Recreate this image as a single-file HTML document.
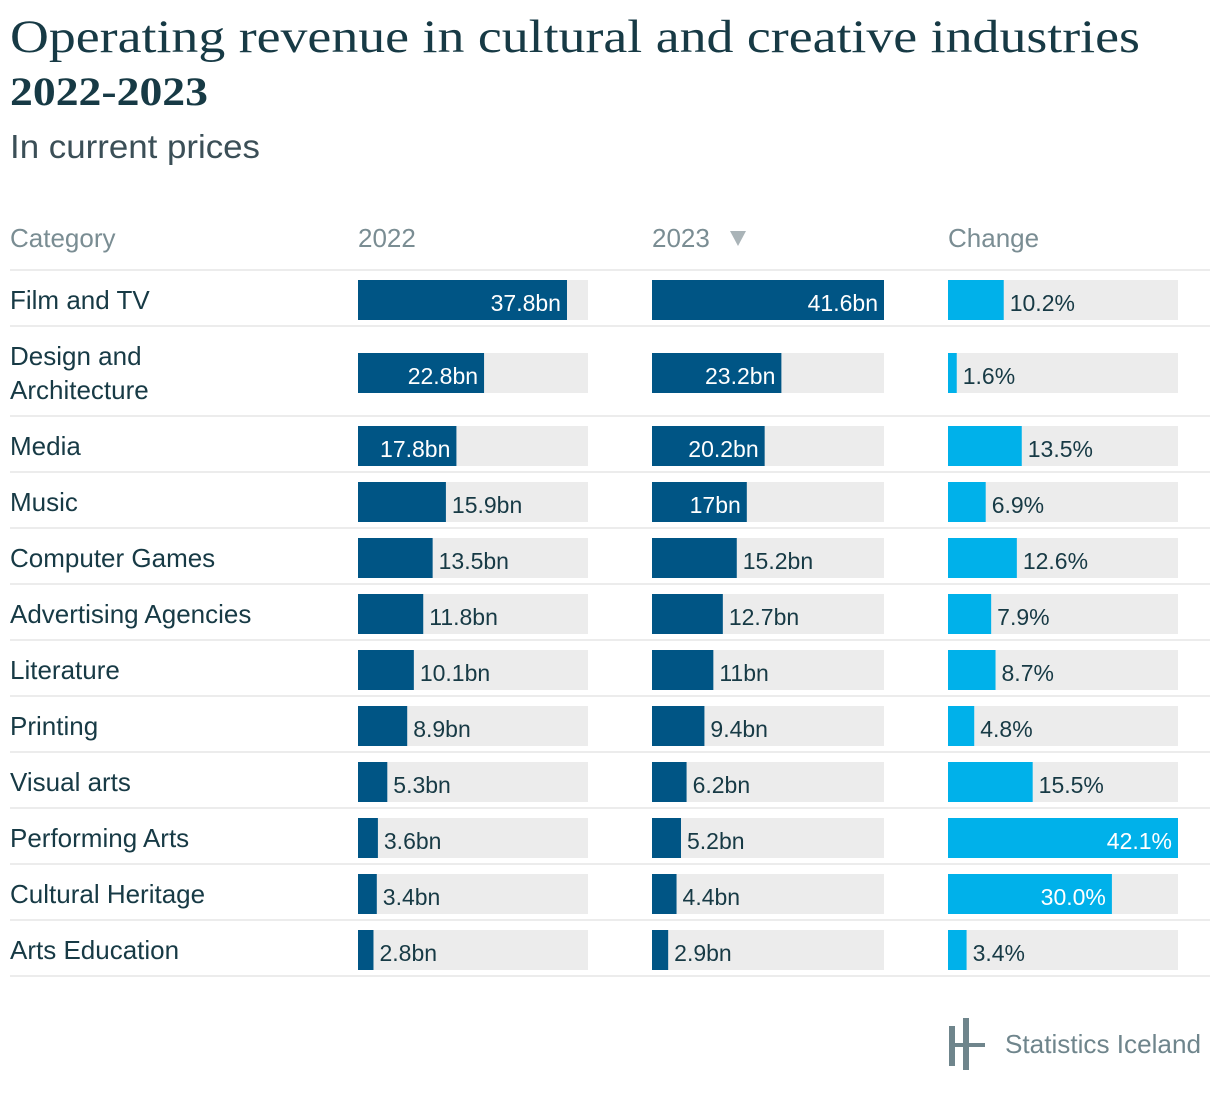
<!DOCTYPE html>
<html><head><meta charset="utf-8"><style>
html,body{margin:0;padding:0;background:#fff;}
svg{display:block;font-family:"Liberation Sans",sans-serif;}
</style></head><body>
<svg id="chart" width="1220" height="1094" viewBox="0 0 1220 1094" xmlns="http://www.w3.org/2000/svg">
<text x="10" y="52" font-family="Liberation Serif, serif" font-size="47" fill="#173a45" textLength="1130" lengthAdjust="spacingAndGlyphs">Operating revenue in cultural and creative industries</text>
<text x="10" y="105" font-family="Liberation Serif, serif" font-size="40" font-weight="bold" fill="#173a45" textLength="198" lengthAdjust="spacingAndGlyphs">2022-2023</text>
<text x="10" y="158" font-size="33" fill="#3b4f57" textLength="250" lengthAdjust="spacingAndGlyphs">In current prices</text>
<text x="10" y="247" font-size="26" fill="#7a8d93">Category</text>
<text x="358" y="247" font-size="26" fill="#7a8d93">2022</text>
<text x="652" y="247" font-size="26" fill="#7a8d93">2023</text>
<path d="M730 231 L746 231 L738 246 Z" fill="#aab4b8"/>
<text x="948" y="247" font-size="26" fill="#7a8d93">Change</text>
<g id="rows"></g>
<g>
<rect x="949" y="1026" width="6" height="40" fill="#6f858c"/>
<rect x="963" y="1018" width="6" height="52" fill="#6f858c"/>
<rect x="949" y="1043" width="36" height="4" fill="#6f858c"/>
<text x="1005" y="1053" font-size="26" fill="#6f858c" textLength="196" lengthAdjust="spacingAndGlyphs">Statistics Iceland</text>
</g>
</svg>
<script>
const categories = ["Film and TV","Design and Architecture","Media","Music","Computer Games","Advertising Agencies","Literature","Printing","Visual arts","Performing Arts","Cultural Heritage","Arts Education"];
const values2022 = [37.8,22.8,17.8,15.9,13.5,11.8,10.1,8.9,5.3,3.6,3.4,2.8];
const values2023 = [41.6,23.2,20.2,17,15.2,12.7,11,9.4,6.2,5.2,4.4,2.9];
const changePct = [10.2,1.6,13.5,6.9,12.6,7.9,8.7,4.8,15.5,42.1,30.0,3.4];
const labels2022 = ["37.8bn","22.8bn","17.8bn","15.9bn","13.5bn","11.8bn","10.1bn","8.9bn","5.3bn","3.6bn","3.4bn","2.8bn"];
const labels2023 = ["41.6bn","23.2bn","20.2bn","17bn","15.2bn","12.7bn","11bn","9.4bn","6.2bn","5.2bn","4.4bn","2.9bn"];
const labelsChange = ["10.2%","1.6%","13.5%","6.9%","12.6%","7.9%","8.7%","4.8%","15.5%","42.1%","30.0%","3.4%"];

const NS="http://www.w3.org/2000/svg";
const g=document.getElementById('rows');
function mk(tag,attrs){const e=document.createElementNS(NS,tag);for(const k in attrs)e.setAttribute(k,attrs[k]);g.appendChild(e);return e;}
const valMax=Math.max(...values2022,...values2023);
const chgMax=Math.max(...changePct);
function xVal(v,w){return v/valMax*w;}
function xChg(v,w){return v/chgMax*w;}

let y=270;
mk('rect',{x:10,y:y-1,width:1200,height:2,fill:'#ececec'});
categories.forEach((c,i)=>{
  const two=c.length>22;
  const h=two?90:56;
  const cy=y+h/2;
  const by=cy+2;
  const nm=mk('text',{x:10,'font-size':26,fill:'#173a45'});
  
  
  if(two){
    const parts=c.split(' and ');
    const t1=document.createElementNS(NS,'tspan');t1.setAttribute('x',10);t1.setAttribute('y',cy-6);t1.textContent=parts[0]+' and';nm.appendChild(t1);
    const t2=document.createElementNS(NS,'tspan');t2.setAttribute('x',10);t2.setAttribute('y',cy+28);t2.textContent=parts[1];nm.appendChild(t2);
  } else { nm.setAttribute('y',cy+11); nm.textContent=c; }
  const cols=[
    {x:358,w:230,bw:xVal(values2022[i],230),lab:labels2022[i],col:'#005585',name:'bar-2022'},
    {x:652,w:232,bw:xVal(values2023[i],232),lab:labels2023[i],col:'#005585',name:'bar-2023'},
    {x:948,w:230,bw:xChg(changePct[i],230),lab:labelsChange[i],col:'#00b1ea',name:'bar-change'}
  ];
  cols.forEach(cl=>{
    const bg=mk('rect',{x:cl.x,y:by-20,width:cl.w,height:40,fill:'#ececec'});
    
    
    const b=mk('rect',{x:cl.x,y:by-20,width:cl.bw,height:40,fill:cl.col});
    
    
    const inside=cl.bw>90;
    const t=mk('text',{x:inside?cl.x+cl.bw-6:cl.x+cl.bw+6,y:by+11,'font-size':23,fill:inside?'#fff':'#173a45','text-anchor':inside?'end':'start'});
    
    
    t.textContent=cl.lab;
  });
  y+=h;
  mk('rect',{x:10,y:y-1,width:1200,height:2,fill:'#ececec'});
});
</script>
</body></html>
